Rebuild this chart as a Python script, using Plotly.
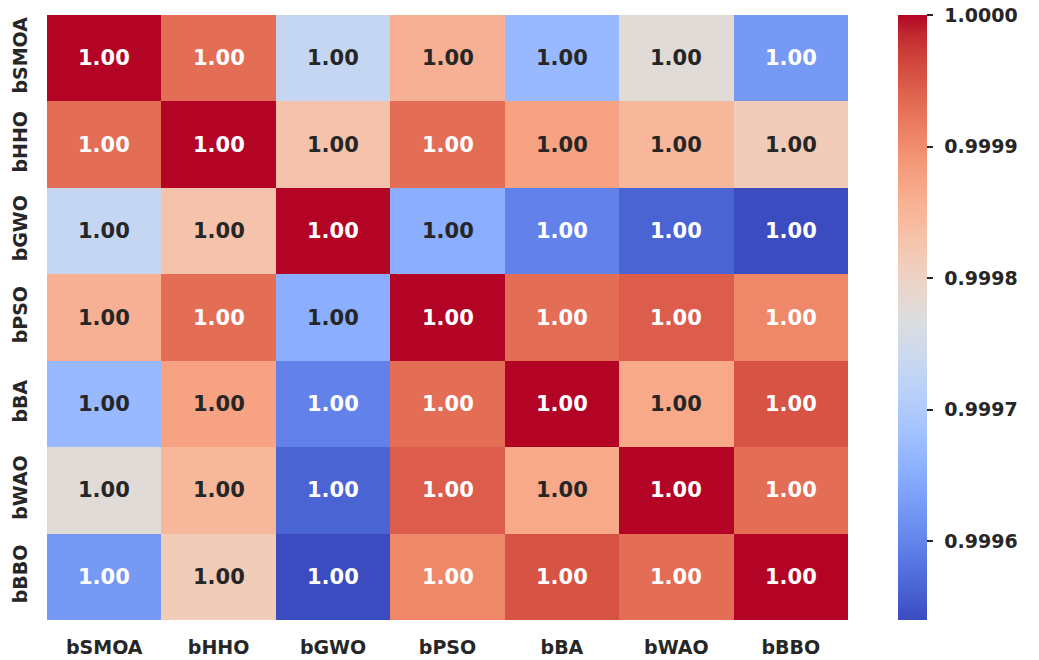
import plotly.graph_objects as go
from plotly.colors import find_intermediate_color

labels = ["bSMOA", "bHHO", "bGWO", "bPSO", "bBA", "bWAO", "bBBO"]

row_bSMOA = [1.0, 0.999931, 0.999731, 0.999857, 0.999669, 0.999777, 0.999625]
row_bHHO = [0.999931, 1.0, 0.999830, 0.999931, 0.999876, 0.999848, 0.999814]
row_bGWO = [0.999731, 0.999830, 1.0, 0.999653, 0.999598, 0.999565, 0.999540]
row_bPSO = [0.999857, 0.999931, 0.999653, 1.0, 0.999931, 0.999945, 0.999906]
row_bBA = [0.999669, 0.999876, 0.999598, 0.999931, 1.0, 0.999867, 0.999954]
row_bWAO = [0.999777, 0.999848, 0.999565, 0.999945, 0.999867, 1.0, 0.999931]
row_bBBO = [0.999625, 0.999814, 0.999540, 0.999906, 0.999954, 0.999931, 1.0]
z = [row_bSMOA, row_bHHO, row_bGWO, row_bPSO, row_bBA, row_bWAO, row_bBBO]

cbar_ticks = [0.9996, 0.9997, 0.9998, 0.9999, 1.0]

coolwarm_rgb = [
    (59, 76, 192), (68, 90, 204), (77, 104, 215), (87, 117, 225), (98, 130, 234),
    (108, 142, 241), (119, 154, 247), (130, 165, 251), (141, 176, 254), (152, 185, 255),
    (163, 194, 255), (174, 201, 253), (184, 208, 249), (194, 213, 244), (204, 217, 238),
    (213, 219, 230), (221, 221, 221), (229, 216, 209), (236, 211, 197), (241, 204, 185),
    (245, 196, 173), (247, 187, 160), (247, 177, 148), (247, 166, 135), (244, 154, 123),
    (241, 141, 111), (236, 127, 99), (229, 112, 88), (222, 96, 77), (213, 80, 66),
    (203, 62, 56), (192, 40, 47), (180, 4, 38),
]
n = len(coolwarm_rgb) - 1
colorscale = [[i / n, "rgb(%d,%d,%d)" % c] for i, c in enumerate(coolwarm_rgb)]

flat = [v for r in z for v in r]
zmin, zmax = min(flat), max(flat)


def cell_color(v):
    f = (v - zmin) / (zmax - zmin)
    f = min(max(f, 0.0), 1.0)
    i = min(int(f * n), n - 1)
    t = f * n - i
    return find_intermediate_color(coolwarm_rgb[i], coolwarm_rgb[i + 1], t)


def lum(c):
    def lin(x):
        x = x / 255.0
        return x / 12.92 if x <= 0.04045 else ((x + 0.055) / 1.055) ** 2.4
    r, g, b = (lin(x) for x in c)
    return 0.2126 * r + 0.7152 * g + 0.0722 * b


font_family = "DejaVu Sans"
cb_common = dict(
    thickness=29, len=1.0, lenmode="fraction", y=0, yanchor="bottom",
    x=1.0624, xanchor="left", xref="paper", ypad=0, xpad=0,
    outlinewidth=0, tickvals=cbar_ticks, tickformat=".4f",
    ticklabeloverflow="allow", ticks="outside", tickwidth=1.5,
    tickfont=dict(family=font_family, size=19, color="#262626", weight="bold"),
)

fig = go.Figure()
# colorbar carrying the short tick marks only
fig.add_trace(go.Heatmap(
    z=z, x=labels, y=labels, colorscale=colorscale, zmin=zmin, zmax=zmax,
    colorbar=dict(cb_common, ticklen=6, tickcolor="#262626", showticklabels=False),
    hoverinfo="skip",
))
# main heatmap with the colorbar labels (set further out, as in the reference)
fig.add_trace(go.Heatmap(
    z=z, x=labels, y=labels, colorscale=colorscale, zmin=zmin, zmax=zmax,
    colorbar=dict(cb_common, ticklen=14, tickcolor="rgba(0,0,0,0)"),
    hoverinfo="skip",
))

annotations = []
for i, ry in enumerate(labels):
    for j, cx in enumerate(labels):
        v = z[i][j]
        col = "#262626" if lum(cell_color(v)) > 0.408 else "white"
        annotations.append(dict(
            x=cx, y=ry, xref="x", yref="y", text="%.2f" % v, showarrow=False,
            font=dict(family=font_family, size=21, color=col, weight="bold"),
        ))

fig.update_layout(
    width=1039, height=660,
    margin=dict(l=47, r=191, t=15, b=40, autoexpand=False),
    paper_bgcolor="white", plot_bgcolor="white",
    annotations=annotations,
    xaxis=dict(
        showgrid=False, zeroline=False, showline=False, ticks="",
        ticklabelstandoff=14, automargin=False,
        tickfont=dict(family=font_family, size=19, color="#262626", weight="bold"),
    ),
    yaxis=dict(
        showgrid=False, zeroline=False, showline=False, ticks="",
        autorange="reversed", tickangle=-90, ticklabelstandoff=15, automargin=False,
        tickfont=dict(family=font_family, size=19, color="#262626", weight="bold"),
    ),
)

# remove the default 8px page margin so the figure fills the window exactly
fig.write_html(
    "out.html",
    config={"displayModeBar": False},
    post_script="document.body.style.margin='0';document.body.style.overflow='hidden';",
)
